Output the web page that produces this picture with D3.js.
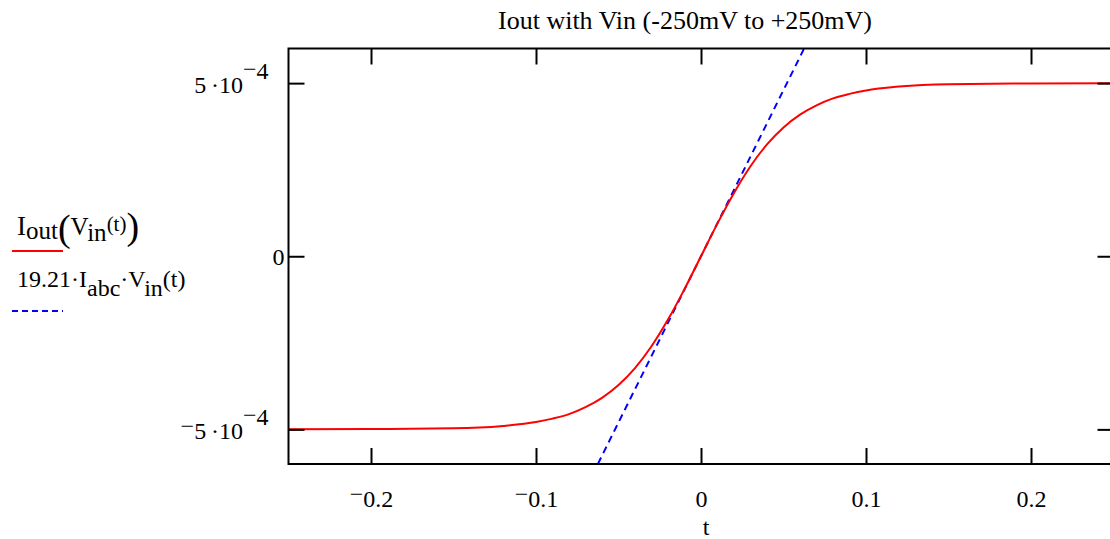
<!DOCTYPE html>
<html>
<head>
<meta charset="utf-8">
<script src="https://cdn.jsdelivr.net/npm/d3@7"></script>
<style>
  html, body { margin: 0; padding: 0; background: #fff; }
  svg { display: block; }
  svg text { font-family: "Liberation Serif", "Times New Roman", serif; }
</style>
</head>
<body>
<svg id="chart" width="1110" height="539"></svg>
<script>
// values (t in V, current in A)
const tValues = [-0.25, -0.2, -0.15, -0.12, -0.1, -0.09, -0.08, -0.07, -0.06, -0.05, -0.04, -0.03, -0.02, -0.01,
                 0, 0.01, 0.02, 0.03, 0.04, 0.05, 0.06, 0.07, 0.08, 0.09, 0.1, 0.12, 0.15, 0.2, 0.25];
const ioutValues = [-5.00e-4, -4.99e-4, -4.97e-4, -4.90e-4, -4.79e-4, -4.69e-4, -4.56e-4, -4.36e-4, -4.09e-4, -3.72e-4,
                    -3.23e-4, -2.60e-4, -1.83e-4, -0.95e-4,
                    0, 0.95e-4, 1.83e-4, 2.60e-4, 3.23e-4, 3.72e-4, 4.09e-4, 4.36e-4, 4.56e-4, 4.69e-4, 4.79e-4,
                    4.90e-4, 4.97e-4, 4.99e-4, 5.00e-4];
// linear approximation 19.21*Iabc*Vin, end points (clipped by the frame)
const linT = [-0.25, 0.25];
const linValues = [-2.40e-3, 2.40e-3];

const xTicks = [-0.2, -0.1, 0, 0.1, 0.2];
const yTicks = [-5e-4, 0, 5e-4];

const svg = d3.select("#chart");

const x = d3.scaleLinear().domain([-0.25, 0.25]).range([288.5, 1113.5]);
const y = d3.scaleLinear().domain([-6e-4, 6e-4]).range([464, 48.5]);

// clip for the plot region
svg.append("defs").append("clipPath").attr("id", "plotclip")
  .append("rect")
  .attr("x", x(-0.25)).attr("y", y(6e-4))
  .attr("width", x(0.25) - x(-0.25)).attr("height", y(-6e-4) - y(6e-4));

const plot = svg.append("g").attr("clip-path", "url(#plotclip)");

// blue dashed linear approx
const linData = linT.map((t, i) => ({ t: t, v: linValues[i] }));
plot.append("path")
  .datum(linData)
  .attr("fill", "none")
  .attr("stroke", "#0000ff")
  .attr("stroke-width", 2)
  .attr("stroke-dasharray", "7,5")
  .attr("d", d3.line().x(d => x(d.t)).y(d => y(d.v)));

// red Iout curve
const ioutData = tValues.map((t, i) => ({ t: t, v: ioutValues[i] }));
plot.append("path")
  .datum(ioutData)
  .attr("fill", "none")
  .attr("stroke", "#ff0000")
  .attr("stroke-width", 2)
  .attr("d", d3.line().curve(d3.curveMonotoneX).x(d => x(d.t)).y(d => y(d.v)));

// frame
svg.append("rect")
  .attr("x", x(-0.25)).attr("y", y(6e-4))
  .attr("width", x(0.25) - x(-0.25)).attr("height", y(-6e-4) - y(6e-4))
  .attr("fill", "none").attr("stroke", "#000").attr("stroke-width", 2);

// axes with inward ticks
const tickLen = 16;
const gx = svg.append("g").attr("transform", `translate(0,${y(-6e-4)})`)
  .call(d3.axisBottom(x).tickValues(xTicks).tickSizeInner(-tickLen).tickSizeOuter(0).tickFormat(""));
const gxTop = svg.append("g").attr("transform", `translate(0,${y(6e-4)})`)
  .call(d3.axisTop(x).tickValues(xTicks).tickSizeInner(-tickLen).tickSizeOuter(0).tickFormat(""));
const gy = svg.append("g").attr("transform", `translate(${x(-0.25)},0)`)
  .call(d3.axisLeft(y).tickValues(yTicks).tickSizeInner(-tickLen).tickSizeOuter(0).tickFormat(""));
const gyRight = svg.append("g").attr("transform", `translate(${x(0.25)},0)`)
  .call(d3.axisRight(y).tickValues(yTicks).tickSizeInner(-tickLen).tickSizeOuter(0).tickFormat(""));

[gx, gxTop, gy, gyRight].forEach(g => {
  g.attr("font-family", null).attr("font-size", null);
  g.select(".domain").remove();
  g.selectAll(".tick text").remove();
  g.selectAll(".tick line").attr("stroke", "#000").attr("stroke-width", 2);
});

// x tick labels (Mathcad style raised minus)
const labelSize = 24;
gx.selectAll(".tick").each(function(d) {
  const t = d3.select(this).append("text")
    .attr("y", 43)
    .attr("fill", "#000")
    .attr("text-anchor", "middle")
    .style("font-size", labelSize + "px");
  if (d < 0) {
    t.append("tspan").attr("dy", -5).text("\u2212");
    t.append("tspan").attr("dy", 5).text(Math.abs(d));
  } else {
    t.text(d);
  }
});

// y tick labels
gy.selectAll(".tick").each(function(d) {
  const g = d3.select(this);
  if (d === 0) {
    g.append("text").attr("x", -4).attr("dy", "0.35em")
      .attr("text-anchor", "end").attr("fill", "#000")
      .style("font-size", labelSize + "px").text("0");
    return;
  }
  const mant = d / 1e-4;
  const t = g.append("text").attr("x", -20).attr("y", 9)
    .attr("text-anchor", "end").attr("fill", "#000")
    .style("font-size", labelSize + "px");
  if (mant < 0) t.append("tspan").attr("dy", -5).text("\u2212");
  t.append("tspan").attr("dy", mant < 0 ? 5 : 0).text(Math.abs(mant) + "\u2009\u00b710");
  t.append("tspan").attr("dy", -16).text("\u2212");
  t.append("tspan").attr("dy", 2).text("4");
});

// title and axis label
svg.append("text")
  .attr("x", 685).attr("y", 29)
  .attr("text-anchor", "middle")
  .style("font-size", "26px")
  .text("Iout with Vin (-250mV to +250mV)");

svg.append("text")
  .attr("x", 706).attr("y", 535)
  .attr("text-anchor", "middle")
  .style("font-size", labelSize + "px")
  .text("t");

// legend
const leg = svg.append("g");
const l1 = leg.append("text").attr("x", 17).attr("y", 235).style("font-size", "27px");
l1.append("tspan").text("I");
l1.append("tspan").attr("dy", 4).style("font-size", "25px").text("out");
l1.append("tspan").attr("dy", 2).style("font-size", "38px").text("(");
l1.append("tspan").attr("dy", -6).style("font-size", "25px").text("V");
l1.append("tspan").attr("dy", 6).style("font-size", "25px").text("in");
l1.append("tspan").attr("dy", -10).style("font-size", "21px").text("(t)");
l1.append("tspan").attr("dy", 8).style("font-size", "38px").text(")");

leg.append("line").attr("x1", 12).attr("x2", 63).attr("y1", 251).attr("y2", 251)
  .attr("stroke", "#ff0000").attr("stroke-width", 2);

const l2 = leg.append("text").attr("x", 17).attr("y", 287).style("font-size", "24px");
l2.append("tspan").text("19.21\u00b7I");
l2.append("tspan").attr("dy", 9).text("abc");
l2.append("tspan").attr("dy", -9).text("\u00b7V");
l2.append("tspan").attr("dy", 9).text("in");
l2.append("tspan").attr("dy", -9).text("(t)");

leg.append("line").attr("x1", 12).attr("x2", 63).attr("y1", 311).attr("y2", 311)
  .attr("stroke", "#0000ff").attr("stroke-width", 2).attr("stroke-dasharray", "6,4");
</script>
</body>
</html>
